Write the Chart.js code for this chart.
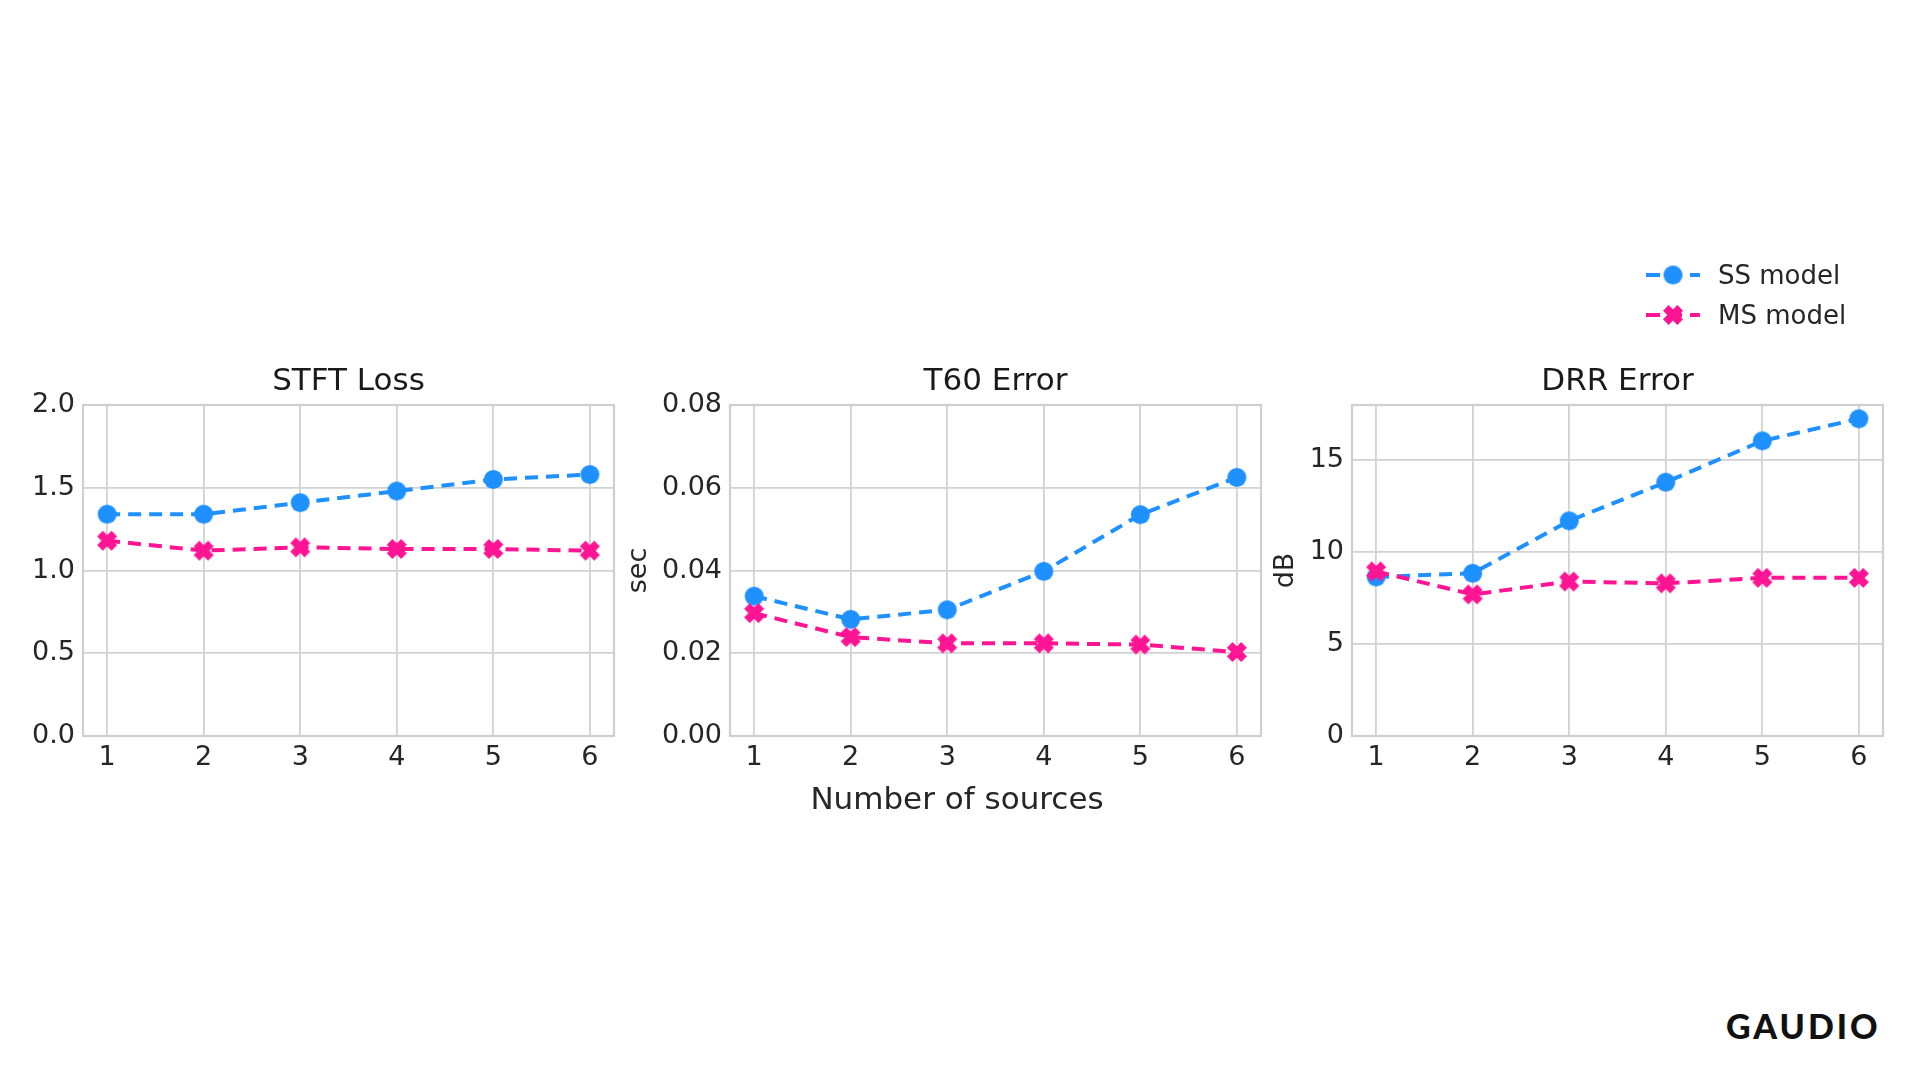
<!DOCTYPE html>
<html>
<head>
<meta charset="utf-8">
<script src="https://cdn.jsdelivr.net/npm/chart.js@4"></script>
<style>
  body { margin: 0; width: 1920px; height: 1080px; background: #fff; position: relative; overflow: hidden; font-family: "DejaVu Sans", sans-serif; color: #262626; }
  .panel { position: absolute; top: 350px; height: 476px; }
  .ptitle { position: absolute; top: 361px; width: 400px; margin-left: -200px; text-align: center; font-size: 31px; line-height: 36px; color: #1a1a1a; }
  .legend { position: absolute; left: 1646px; top: 255px; font-size: 26px; }
  .legend .row { display: flex; align-items: center; height: 40px; }
  .legend canvas { margin-right: 18px; }
  .xlabel { position: absolute; left: 757px; width: 400px; top: 780px; text-align: center; font-size: 31px; line-height: 36px; }
  .logo { position: absolute; left: 1726px; top: 1005px; font-family: Lato, sans-serif; font-weight: 900; font-size: 34px; letter-spacing: 3px; color: #111; }
</style>
</head>
<body>
<div class="panel" style="left:0px;width:625px"><canvas id="c-stft"></canvas></div>
<div class="panel" style="left:619px;width:653px"><canvas id="c-t60"></canvas></div>
<div class="panel" style="left:1266px;width:628px"><canvas id="c-drr"></canvas></div>
<div class="ptitle" style="left:348.5px">STFT Loss</div>
<div class="ptitle" style="left:995.5px">T60 Error</div>
<div class="ptitle" style="left:1617.5px">DRR Error</div>
<div class="xlabel">Number of sources</div>
<div class="legend" id="legend"></div>
<div class="logo">GAUDIO</div>
<script>
// --- data ---
const SOURCES = [1, 2, 3, 4, 5, 6];
const STFT_SS = [1.34, 1.34, 1.41, 1.48, 1.55, 1.58];
const STFT_MS = [1.18, 1.12, 1.14, 1.13, 1.13, 1.12];
const T60_SS = [0.0338, 0.0282, 0.0305, 0.0398, 0.0535, 0.0625];
const T60_MS = [0.0297, 0.0239, 0.0224, 0.0224, 0.0221, 0.0203];
const DRR_SS = [8.65, 8.85, 11.7, 13.8, 16.05, 17.25];
const DRR_MS = [8.95, 7.7, 8.4, 8.3, 8.6, 8.6];
const STFT_TICKS = [0, 0.5, 1.0, 1.5, 2.0];
const T60_TICKS = [0, 0.02, 0.04, 0.06, 0.08];
const DRR_TICKS = [0, 5, 10, 15];
const SERIES_NAMES = ["SS model", "MS model"];

const BLUE = "#1e90ff", PINK = "#ff1493";
const GRID = "#d2d2d2", TEXT = "#262626";

Chart.defaults.font.family = "'DejaVu Sans', sans-serif";
Chart.defaults.color = TEXT;

// marker images
function circleImg(color, r) {
  const c = document.createElement("canvas");
  c.width = c.height = Math.ceil(2 * r + 2);
  const g = c.getContext("2d");
  g.fillStyle = color;
  g.beginPath(); g.arc(c.width / 2, c.height / 2, r, 0, Math.PI * 2); g.fill();
  return c;
}
function crossImg(color, s) {
  const c = document.createElement("canvas");
  c.width = c.height = s;
  const g = c.getContext("2d");
  g.strokeStyle = color; g.lineWidth = 8; g.lineCap = "butt";
  const p = 3.8;
  g.beginPath();
  g.moveTo(p, p); g.lineTo(s - p, s - p);
  g.moveTo(s - p, p); g.lineTo(p, s - p);
  g.stroke();
  return c;
}
const DOT = circleImg(BLUE, 9.5);
const XMARK = crossImg(PINK, 22);

const frame = {
  id: "frame",
  beforeDatasetsDraw(chart) {
    const a = chart.chartArea, ctx = chart.ctx;
    ctx.save();
    ctx.strokeStyle = "#cfcfcf"; ctx.lineWidth = 2.2;
    ctx.strokeRect(a.left, a.top, a.right - a.left, a.bottom - a.top);
    ctx.restore();
  }
};

function pts(vals) { return SOURCES.map((s, i) => ({ x: s, y: vals[i] })); }

function makePanel(id, ss, ms, yTicks, yMax, digits, yTitle, yWidth) {
  new Chart(document.getElementById(id), {
    type: "line",
    data: {
      datasets: [
        { label: SERIES_NAMES[0], data: pts(ss), borderColor: BLUE, backgroundColor: BLUE, pointStyle: DOT, order: 2 },
        { label: SERIES_NAMES[1], data: pts(ms), borderColor: PINK, backgroundColor: PINK, pointStyle: XMARK, order: 1 },
      ],
    },
    options: {
      responsive: true,
      maintainAspectRatio: false,
      animation: false,
      layout: { padding: { top: 55, right: 10 } },
      elements: {
        line: { borderWidth: 4, borderDash: [13, 8], tension: 0, fill: false },
        point: { radius: 10, hoverRadius: 10 },
      },
      clip: false,
      plugins: {
        legend: { display: false },
        tooltip: { enabled: false },
      },
      scales: {
        x: {
          type: "linear", min: 0.75, max: 6.25,
          afterBuildTicks: s => { s.ticks = SOURCES.map(v => ({ value: v })); },
          afterFit: s => { s.height = 90; },
          ticks: { font: { size: 27 }, padding: 5.3, color: TEXT },
          grid: { color: GRID, lineWidth: 1.8, drawTicks: false },
          border: { display: false },
        },
        y: {
          type: "linear", min: 0, max: yMax,
          afterBuildTicks: s => { s.ticks = yTicks.map(v => ({ value: v })); },
          afterFit: s => { s.width = yWidth; },
          ticks: { font: { size: 27 }, padding: 8, color: TEXT, callback: v => v.toFixed(digits) },
          grid: { color: GRID, lineWidth: 1.8, drawTicks: false },
          border: { display: false },
          title: { display: !!yTitle, text: yTitle || "", font: { size: 27 }, color: TEXT, padding: { top: 4, bottom: 4 } },
        },
      },
    },
    plugins: [frame],
  });
}

makePanel("c-stft", STFT_SS, STFT_MS, STFT_TICKS, 2.0, 1, null, 83);
makePanel("c-t60", T60_SS, T60_MS, T60_TICKS, 0.08, 2, "sec", 111);
makePanel("c-drr", DRR_SS, DRR_MS, DRR_TICKS, 18, 0, "dB", 86);

// legend
function legendIcon(color, img) {
  const c = document.createElement("canvas");
  c.width = 54; c.height = 26;
  const g = c.getContext("2d");
  g.strokeStyle = color; g.lineWidth = 4; g.setLineDash([14, 8]);
  g.beginPath(); g.moveTo(0, 13); g.lineTo(54, 13); g.stroke();
  g.drawImage(img, 27 - img.width / 2, 13 - img.height / 2);
  return c;
}
const legend = document.getElementById("legend");
[[BLUE, DOT], [PINK, XMARK]].forEach(([col, img], i) => {
  const row = document.createElement("div");
  row.className = "row";
  row.appendChild(legendIcon(col, img));
  const span = document.createElement("span");
  span.textContent = SERIES_NAMES[i];
  row.appendChild(span);
  legend.appendChild(row);
});
</script>
</body>
</html>
